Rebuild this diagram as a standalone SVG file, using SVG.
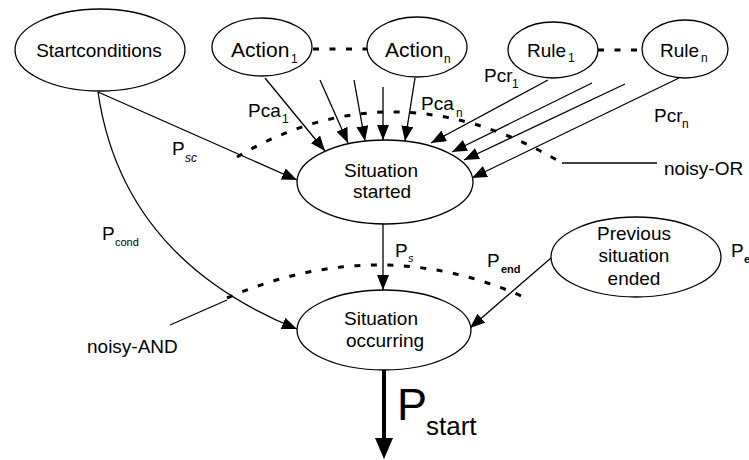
<svg xmlns="http://www.w3.org/2000/svg" width="749" height="460" viewBox="0 0 749 460">
<defs>
<marker id="ah" markerUnits="userSpaceOnUse" markerWidth="15" markerHeight="12" viewBox="0 0 15 12" refX="15" refY="6" orient="auto"><path d="M0,0 L15,6 L0,12 Z" fill="#000"/></marker>
</defs>
<style>
.node ellipse{fill:#fff;stroke:#000;stroke-width:1.3}
text{font-family:"Liberation Sans",Arial,sans-serif;fill:#000}
.t{font-size:19px}
.ta{font-size:21px}
.c{text-anchor:middle}
.sub{font-size:12px}
.sm{font-size:11px}
.edge{fill:none;stroke:#000;stroke-width:1.3}
.arr{marker-end:url(#ah)}
.dash{fill:none;stroke:#000;stroke-width:3;stroke-dasharray:6 10.5}
</style>
<rect width="749" height="460" fill="#fff"/>

<g id="connectors">
<path class="edge arr" d="M98,92 L297,180"/>
<path class="edge arr" d="M98,92 Q122,258 297,329"/>
<path class="edge arr" d="M265,78 L325,151"/>
<path class="edge arr" d="M320,80 L348,143"/>
<path class="edge arr" d="M354,80 L365,141"/>
<path class="edge arr" d="M383,87 L383,140"/>
<path class="edge arr" d="M415,78 L405,141"/>
<path class="edge arr" d="M548,80 L431,143"/>
<path class="edge arr" d="M592,83 L452,152"/>
<path class="edge arr" d="M625,84 L464,160"/>
<path class="edge arr" d="M679,78 L472,178"/>
<path class="edge arr" d="M383,224 L383,290"/>
<path class="edge arr" d="M551,258 L470,328"/>
<path d="M384,370 L384,442" stroke="#000" stroke-width="4" fill="none"/>
<path d="M375,438 L393,438 L384,459 Z" fill="#000"/>
<path class="dash" d="M313,49 L368,49"/>
<path class="dash" d="M598,50 L642,50"/>
<path class="dash" d="M237,157 Q395,64 562,163"/>
<path class="dash" d="M227,298 Q380,232 526,298"/>
<path class="edge" d="M562,163 L657,163"/>
<path class="edge" d="M170,325 L227,300"/>
</g>

<g id="startconditions" class="node">
<ellipse cx="100" cy="50" rx="85" ry="41"/>
<text class="t c" x="99" y="57">Startconditions</text>
</g>
<g id="action1" class="node">
<ellipse cx="262" cy="47" rx="50" ry="29"/>
<text class="ta" x="231" y="57">Action</text>
<text class="sub" x="291" y="63">1</text>
</g>
<g id="actionn" class="node">
<ellipse cx="417" cy="47" rx="50" ry="30"/>
<text class="ta" x="385" y="57">Action</text>
<text class="sub" x="444" y="63">n</text>
</g>
<g id="rule1" class="node">
<ellipse cx="553" cy="50" rx="45" ry="28"/>
<text class="t" x="527" y="57">Rule</text>
<text class="sub" x="568" y="62">1</text>
</g>
<g id="rulen" class="node">
<ellipse cx="685" cy="49" rx="43" ry="29"/>
<text class="t" x="660" y="57">Rule</text>
<text class="sub" x="701" y="62">n</text>
</g>
<g id="situation-started" class="node">
<ellipse cx="385" cy="182" rx="88" ry="42"/>
<text class="t c" x="381" y="177">Situation</text>
<text class="t c" x="382" y="198">started</text>
</g>
<g id="situation-occurring" class="node">
<ellipse cx="384" cy="330" rx="87" ry="40"/>
<text class="t c" x="381" y="325">Situation</text>
<text class="t c" x="385" y="347">occurring</text>
</g>
<g id="previous-situation-ended" class="node">
<ellipse cx="636" cy="257" rx="85" ry="40"/>
<text class="t c" x="634" y="240">Previous</text>
<text class="t c" x="634" y="262">situation</text>
<text class="t c" x="634" y="285">ended</text>
</g>

<g id="labels">
<text class="t" x="248" y="117">Pca</text><text class="sub" x="282" y="123">1</text>
<text class="t" x="421" y="110">Pca</text><text class="sub" x="456" y="117">n</text>
<text class="t" x="484" y="82">Pcr</text><text class="sub" x="512" y="88">1</text>
<text class="t" x="654" y="122">Pcr</text><text class="sub" x="682" y="128">n</text>
<text class="t" x="172" y="155">P</text><text class="sub" x="185" y="162" font-style="italic">sc</text>
<text class="t" x="102" y="240">P</text><text class="sm" x="115" y="246">cond</text>
<text class="t" x="395" y="257">P</text><text class="sm" x="408" y="262" font-style="italic">s</text>
<text class="t" x="487" y="267">P</text><text class="sm" x="501" y="273" font-weight="bold">end</text>
<text class="t" x="731" y="257">P</text><text class="sm" x="744" y="263" font-weight="bold">e</text>
<text x="397" y="420" font-size="45">P</text><text x="426" y="435" font-size="26">start</text>
<text class="t" x="664" y="175">noisy-OR</text>
<text class="t" x="87" y="353">noisy-AND</text>
</g>
</svg>
